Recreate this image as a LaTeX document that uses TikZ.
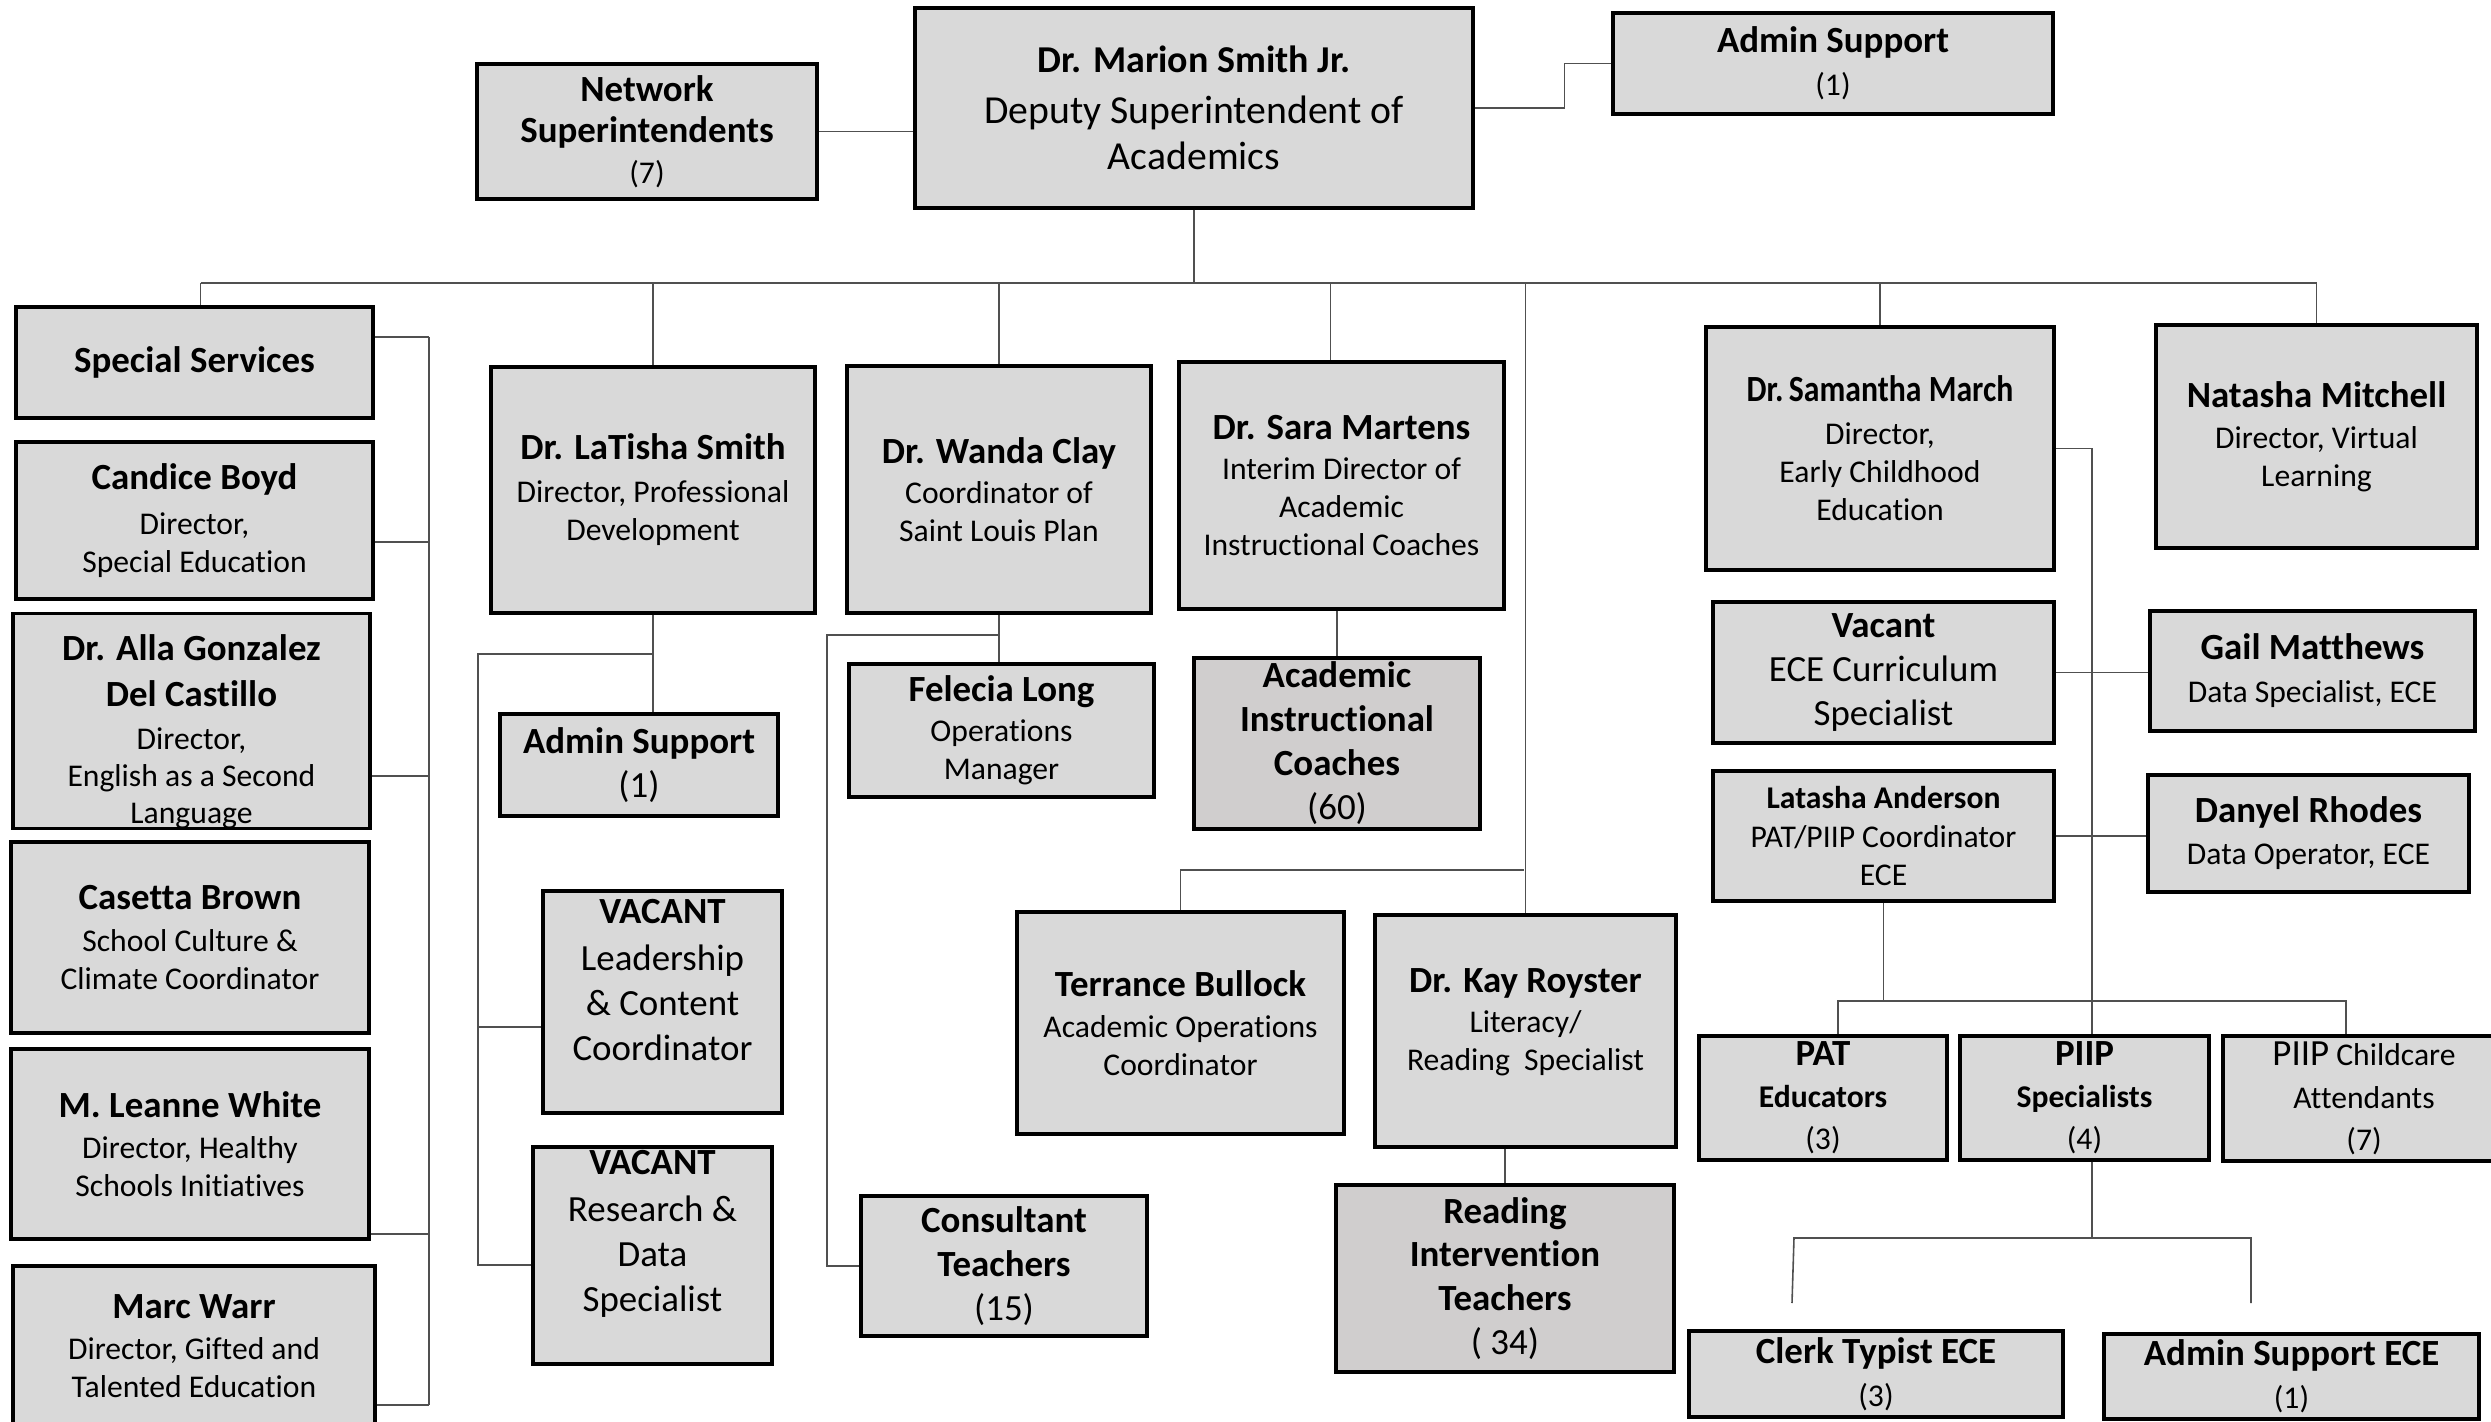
\documentclass[tikz,border=0pt]{standalone}
\usepackage{fontspec}
\setmainfont{Carlito}[Ligatures={CommonOff,ContextualOff}]
\usepackage{graphicx}
\usepackage{tikz}
\definecolor{boxfill}{HTML}{D9D9D9}
\definecolor{boxdark}{HTML}{D0CECE}
\definecolor{linkgray}{HTML}{505050}
\newcommand{\nm}[1]{{\fontsize{10.5}{12}\selectfont\bfseries #1}}

\begin{document}
\begin{tikzpicture}[x=0.1mm,y=-0.1mm,
  unit/.style={draw=black,line width=0.95pt,fill=boxfill,align=center,inner sep=0pt,font=\fontsize{9}{10.8}\selectfont},
  coach/.style={unit,fill=boxdark},
  bw/.style={minimum width=#1*0.1mm},
  bh/.style={minimum height=#1*0.1mm},
  link/.style={draw=linkgray,line width=0.45pt}]
  \useasboundingbox (0,0) rectangle (2491,1422);
  \clip (0,0) rectangle (2491,1422);

  \node[unit,bw=558,bh=200,font=\fontsize{11.3}{13.1}\selectfont] (smith) at (1194,108)
    {{\fontsize{10.8}{13}\selectfont\bfseries Dr. Marion Smith Jr.}\\[1.4pt] Deputy Superintendent of\\ Academics};
  \node[unit,bw=340,bh=135,font=\fontsize{9}{11.6}\selectfont] (netsup) at (647,131.5) {\nm{Network}\\ \nm{Superintendents}\\ (7)};
  \node[unit,bw=440,bh=101,font=\fontsize{9}{12.2}\selectfont] (admintop) at (1833,63.5) {\nm{Admin Support}\\ (1)};

  \node[unit,bw=357,bh=111] (specserv) at (194.5,362.5) {\nm{Special Services}};
  \node[unit,bw=357,bh=157] (boyd) at (194.5,520.5) {\nm{Candice Boyd}\\[2pt] Director,\\ Special Education};
  \node[unit,bw=357,bh=210,font=\fontsize{9}{10.5}\selectfont] (gonzalez) at (191.5,721)
    {\mbox{}\\[3pt] \nm{Dr. Alla Gonzalez}\\[2.6pt] \nm{Del Castillo}\\[1.7pt] Director,\\ English as a Second\\ Language};
  \node[unit,bw=358,bh=191] (brown) at (190,937.5) {\nm{Casetta Brown}\\[0.9pt] School Culture \&\\ Climate Coordinator};
  \node[unit,bw=358,bh=190] (white) at (190,1144) {\nm{M. Leanne White}\\[1pt] Director, Healthy\\ Schools Initiatives};
  \node[unit,bw=362,bh=160] (warr) at (194,1346) {\nm{Marc Warr}\\[1pt] Director, Gifted and\\ Talented Education};

  \node[unit,bw=324,bh=246] (latisha) at (653,490) {\nm{Dr. LaTisha Smith}\\[1.4pt] Director, Professional\\ Development};
  \node[unit,bw=278,bh=102,font=\fontsize{10.5}{12.5}\selectfont] (adminpd) at (639,765) {\nm{Admin Support}\\ (1)};
  \node[unit,bw=239,bh=222,font=\fontsize{10.5}{12.8}\selectfont] (vacantlead) at (662.5,1002)
    {\nm{VACANT}\\[0.6pt] Leadership\\ \& Content\\ Coordinator\\[0pt]\mbox{}};
  \node[unit,bw=239,bh=217,font=\fontsize{10.5}{12.8}\selectfont] (vacantres) at (652.5,1255.5)
    {\nm{VACANT}\\[0.6pt] Research \&\\ Data\\ Specialist\\[1pt]\mbox{}};

  \node[unit,bw=304,bh=247] (clay) at (999,489.5) {\nm{Dr. Wanda Clay}\\[0.6pt] Coordinator of\\ Saint Louis Plan};
  \node[unit,bw=305,bh=133] (long) at (1001.5,730.5) {\nm{Felecia Long}\\[0.6pt] Operations\\ Manager};
  \node[unit,bw=286,bh=140,font=\fontsize{10.5}{12.5}\selectfont] (consult) at (1004,1266) {\nm{Consultant}\\ \nm{Teachers}\\ (15)};

  \node[unit,bw=325,bh=247] (martens) at (1341.5,485.5)
    {\nm{Dr. Sara Martens}\\[0.6pt] Interim Director of\\ Academic\\ Instructional Coaches};
  \node[coach,bw=286,bh=171,font=\fontsize{10.5}{12.5}\selectfont] (aic) at (1337,743.5)
    {\nm{Academic}\\ \nm{Instructional}\\ \nm{Coaches}\\ (60)};
  \node[unit,bw=327,bh=222] (bullock) at (1180.5,1023) {\nm{Terrance Bullock}\\[1pt] Academic Operations\\ Coordinator};
  \node[unit,bw=301,bh=232] (royster) at (1525.5,1031) {\nm{Dr. Kay Royster}\\[0.6pt] Literacy/\\ Reading\ \ Specialist\\[-4pt]\mbox{}};
  \node[coach,bw=338,bh=187,font=\fontsize{10.5}{12.5}\selectfont] (rit) at (1505,1278.5)
    {\nm{Reading}\\ \nm{Intervention}\\ \nm{Teachers}\\ ( 34)};

  \node[unit,bw=348,bh=243] (march) at (1880,448.5)
    {\nm{\scalebox{0.86}[1]{Dr.\,Samantha March}}\\[1.4pt] Director,\\ Early Childhood\\ Education};
  \node[unit,bw=321,bh=223] (mitchell) at (2316.5,436.5) {\nm{Natasha Mitchell}\\[1pt] Director, Virtual\\ Learning};
  \node[unit,bw=341,bh=141,font=\fontsize{10.5}{12.5}\selectfont] (vacantece) at (1883.5,672.5) {\nm{Vacant}\\ ECE Curriculum\\ Specialist};
  \node[unit,bw=325,bh=120,font=\fontsize{9}{12.2}\selectfont] (matthews) at (2312.5,671) {\nm{Gail Matthews}\\ Data Specialist, ECE};
  \node[unit,bw=341,bh=130] (anderson) at (1883.5,836) {\textbf{Latasha Anderson}\\[0.3pt] PAT/PIIP Coordinator\\ ECE};
  \node[unit,bw=321,bh=117,font=\fontsize{9}{12}\selectfont] (rhodes) at (2308.5,833.5) {\nm{Danyel Rhodes}\\ Data Operator, ECE};
  \node[unit,bw=248,bh=124,font=\fontsize{9}{12}\selectfont] (pat) at (1823,1098) {\nm{PAT}\\ \textbf{Educators}\\ (3)};
  \node[unit,bw=249,bh=124,font=\fontsize{9}{12}\selectfont] (piip) at (2084.5,1098) {\nm{PIIP}\\ \textbf{Specialists}\\ (4)};
  \node[unit,bw=282,bh=125,font=\fontsize{9}{12}\selectfont] (childcare) at (2364,1098.5)
    {{\fontsize{10.5}{12}\selectfont PIIP} Childcare\\ Attendants\\ (7)};
  \node[unit,bw=374,bh=86,font=\fontsize{9}{12.2}\selectfont] (clerk) at (1876,1374) {\nm{Clerk Typist ECE}\\ (3)};
  \node[unit,bw=375,bh=85,font=\fontsize{9}{12.2}\selectfont] (adminece) at (2291.5,1376.5) {\nm{Admin Support ECE}\\ (1)};

  \coordinate (bus) at (0,283);
  \coordinate (ssrail) at (429,0);
  \coordinate (pdrail) at (478,0);
  \coordinate (oprail) at (827,0);
  \coordinate (opsend) at (1524,870);
  \coordinate (ecerail) at (2092,0);
  \coordinate (patbus l) at (1838,1001);
  \coordinate (patbus r) at (2346,1001);
  \coordinate (clerkbus) at (1794,1238);
  \coordinate (adminbus) at (2251,1238);
  \coordinate (clerkdrop) at (1792,1303);
  \coordinate (admindrop) at (2251,1303);
  \coordinate (ssstem) at ([xshift=0.6mm]specserv.north);
  \coordinate (smstem) at ([xshift=-1.1mm]martens.north);

  \draw[link] (netsup.east) -- (netsup.east -| smith.west);
  \draw[link] (smith.east) -- ++(90,0) |- (admintop.west);
  \draw[link] (smith.south) -- (smith.south |- bus);
  \draw[link] (ssstem |- bus) -- (mitchell.north |- bus);
  \foreach \n in {ssstem,latisha.north,clay.north,smstem,royster.north,march.north,mitchell.north}
    \draw[link] (\n |- bus) -- (\n);

  \draw[link] (ssrail |- 0,337) -- (ssrail |- 0,1405);
  \foreach \n/\y in {specserv/337,boyd/542,gonzalez/776,white/1234,warr/1405}
    \draw[link] (\n.east |- 0,\y) -- (ssrail |- 0,\y);

  \draw[link] (latisha.south) -- (latisha.south |- adminpd.north);
  \draw[link] (latisha.south |- 0,654) -| (pdrail |- 0,1265) -- (vacantres.west |- 0,1265);
  \draw[link] (pdrail |- 0,1027) -- (vacantlead.west |- 0,1027);

  \draw[link] (clay.south) -- (clay.south |- long.north);
  \draw[link] (clay.south |- 0,635) -| (oprail |- consult.west) -- (consult.west);

  \draw[link] (aic.north |- martens.south) -- (aic.north);
  \draw[link] (bullock.north) |- (opsend);
  \draw[link] (rit.north |- royster.south) -- (rit.north);

  \draw[link] (march.east) -| (ecerail |- piip.north);
  \draw[link] (vacantece.east) -- (vacantece.east -| matthews.west);
  \draw[link] (anderson.east) -- (anderson.east -| rhodes.west);
  \draw[link] (anderson.south) -- (anderson.south |- patbus l);
  \draw[link] (patbus l |- pat.north) -- (patbus l) -- (patbus r) -- (patbus r |- childcare.north);
  \draw[link] (ecerail |- piip.south) -- (ecerail |- clerkbus);
  \draw[link] (clerkdrop) -- (clerkbus) -- (adminbus) -- (admindrop);
\end{tikzpicture}
\end{document}
